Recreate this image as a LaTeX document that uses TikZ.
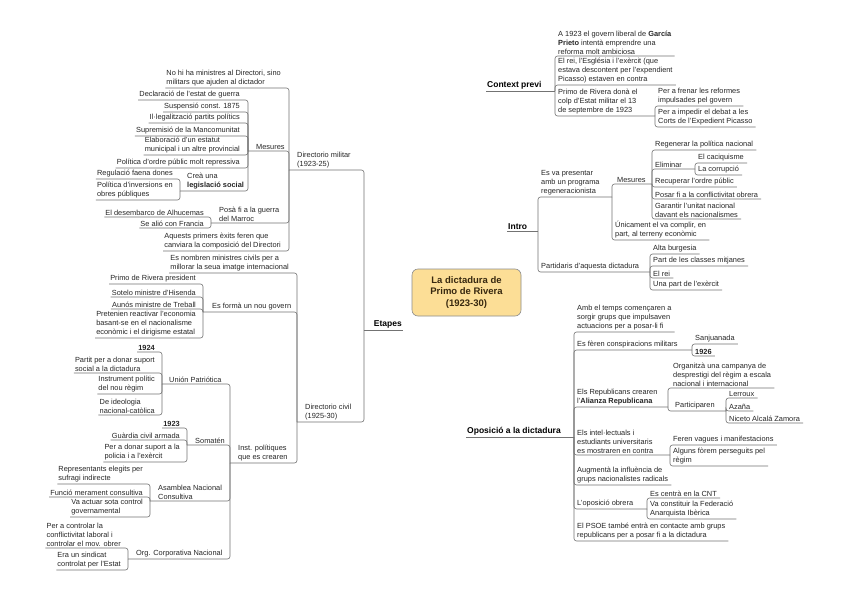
\documentclass[tikz,border=0pt]{standalone}
\usepackage{fontspec}
\setmainfont{Liberation Sans}
\usetikzlibrary{calc}
\pgfdeclarelayer{bg}
\pgfsetlayers{bg,main}
\definecolor{hubfill}{RGB}{252,222,150}
\definecolor{hubtext}{RGB}{55,40,15}
\newcommand\myL[2]{\draw[cn] (#1.south west) -- (#1.south west -| #2) -- (#2);}
\newcommand\myR[2]{\draw[cn] ($(#1.south east)+(2,0)$) -- (#1.south east -| #2) -- (#2);}
\newcommand\myJ[2]{\draw[cn] (#1) -- (#1 -| #2) -- (#2);}
\begin{document}
\begin{tikzpicture}[x=1pt,y=-1pt,
  lf/.style={inner xsep=1pt, inner ysep=1.3pt, font=\fontsize{7.4}{9}\selectfont, align=left, text=black!85},
  L/.style={lf, anchor=south east},
  R/.style={lf, anchor=south west},
  br/.style={inner xsep=1pt, inner ysep=1.3pt, font=\fontsize{8.5}{10}\selectfont\bfseries, text=black},
  cn/.style={draw=black!55, line width=0.6pt, rounded corners=2.5pt},
  hub/.style={draw=black!45, line width=0.6pt, fill=hubfill, rounded corners=6pt, minimum width=109pt, minimum height=47pt, align=center, font=\fontsize{9.5}{11.5}\selectfont\bfseries, text=hubtext},
  taper/.style={fill=black}
]
\fill[white] (0,0) rectangle (848,599);
\useasboundingbox (0,0) rectangle (848,599);

% ---------- hub ----------
\node[hub] (c) at (466.5,292.5) {La dictadura de\\Primo de Rivera\\(1923-30)};

% ---------- main branches ----------
\node[br, anchor=south west] (ctx) at (486,91) {Context previ};
\node[br, anchor=south west] (int) at (507,231) {Intro};
\node[br, anchor=south east] (eta) at (403,330) {Etapes};
\node[br, anchor=south west] (opo) at (466,437) {Oposició a la dictadura};
\coordinate (ctxj) at (555,91);
\coordinate (intj) at (538,231);
\coordinate (etaj) at (364,330);
\coordinate (opoj) at (574,437);
\draw[cn] (ctx.south west) -- (ctxj);
\draw[cn] (int.south west) -- (intj);
\draw[cn] (etaj) -- (eta.south east);
\draw[cn] (opo.south west) -- (opoj);

\begin{pgfonlayer}{bg}
\fill[taper] ($(ctx.south west)+(-0.7,0)$) -- ($(ctx.south west)+(0.7,0)$) -- (472.5,275) -- (466.5,275) -- cycle;
\fill[taper] ($(int.south west)+(-0.7,0)$) -- ($(int.south west)+(0.7,0)$) -- (482,274) -- (476,274) -- cycle;
\fill[taper] ($(eta.south east)+(0,-0.7)$) -- ($(eta.south east)+(0,0.7)$) -- (434,315) -- (431,310) -- cycle;
\fill[taper] ($(opo.south west)+(-0.7,0)$) -- ($(opo.south west)+(0.7,0)$) -- (474,308) -- (468,308) -- cycle;
\end{pgfonlayer}

% ---------- Context previ ----------
\node[R] (cp1) at (557,56) {A 1923 el govern liberal de \textbf{García}\\\textbf{Prieto} intentà emprendre una\\reforma molt ambiciosa};
\node[R] (cp2) at (557,85) {El rei, l'Església i l'exèrcit (que\\estava descontent per l'expendient\\Picasso) estaven en contra};
\node[R] (cp3) at (557,116) {Primo de Rivera donà el\\colp d'Estat militar el 13\\de septembre de 1923};
\coordinate (cp3j) at (655,116);
\node[R] (cp3a) at (657,106) {Per a frenar les reformes\\impulsades pel govern};
\node[R] (cp3b) at (657,127) {Per a impedir el debat a les\\Corts de l'Expedient Picasso};
\myR{cp1}{ctxj} \myR{cp2}{ctxj} \myJ{cp3j}{ctxj}
\myR{cp3a}{cp3j} \myR{cp3b}{cp3j}

% ---------- Intro ----------
\node[R] (in1) at (540,197) {Es va presentar\\amb un programa\\regeneracionista};
\coordinate (in1j) at (612,197);
\node[R] (in1m) at (616,184) {Mesures};
\coordinate (in1mj) at (652,184);
\node[R] (m1) at (654,150) {Regenerar la política nacional};
\node[R] (m2) at (654,169) {Eliminar};
\coordinate (m2j) at (695,169);
\node[R] (m2a) at (697,163) {El caciquisme};
\node[R] (m2b) at (697,175) {La corrupció};
\node[R] (m3) at (654,187) {Recuperar l'ordre públic};
\node[R] (m4) at (654,199) {Posar fi a la conflictivitat obrera};
\node[R] (m5) at (654,219) {Garantir l'unitat nacional\\davant els nacionalismes};
\node[R] (in1u) at (614,240) {Únicament el va complir, en\\part, al terreny econòmic};
\node[R] (in2) at (540,272) {Partidaris d'aquesta dictadura};
\coordinate (in2j) at (650,272);
\node[R] (p1) at (652,254) {Alta burgesia};
\node[R] (p2) at (652,266) {Part de les classes mitjanes};
\node[R] (p3) at (652,278) {El rei};
\node[R] (p4) at (652,290) {Una part de l'exèrcit};
\myJ{in1j}{intj} \myJ{in2j}{intj}
\myJ{in1mj}{in1j} \myR{in1u}{in1j}
\myR{m1}{in1mj} \myJ{m2j}{in1mj} \myR{m3}{in1mj} \myR{m4}{in1mj} \myR{m5}{in1mj}
\myR{m2a}{m2j} \myR{m2b}{m2j}
\myR{p1}{in2j} \myR{p2}{in2j} \myR{p3}{in2j} \myR{p4}{in2j}

% ---------- Oposició ----------
\node[R] (o1) at (576,332) {Amb el temps començaren a\\sorgir grups que impulsaven\\actuacions per a posar-li fi};
\node[R] (o2) at (576,350) {Es fèren conspiracions militars};
\coordinate (o2j) at (692,350);
\node[R] (o2a) at (694,344) {Sanjuanada};
\node[R] (o2b) at (694,356) {\textbf{1926}};
\node[R] (o3) at (576,407) {Els Republicans crearen\\l'\textbf{Alianza Republicana}};
\coordinate (o3j) at (668,407);
\node[R] (o3a) at (672,388) {Organitzà una campanya de\\desprestigi del règim a escala\\nacional i internacional};
\node[R] (o3b) at (674,411) {Participaren};
\coordinate (o3bj) at (726,411);
\node[R] (l1) at (728,398) {Lerroux};
\node[R] (l2) at (728,411) {Azaña};
\node[R] (l3) at (728,423) {Niceto Alcalá Zamora};
\node[R] (o4) at (576,455) {Els intel·lectuals i\\estudiants universitaris\\es mostraren en contra};
\coordinate (o4j) at (670,455);
\node[R] (o4a) at (672,445) {Feren vagues i manifestacions};
\node[R] (o4b) at (672,466) {Alguns fòrem perseguits pel\\règim};
\node[R] (o5) at (576,485) {Augmentà la influència de\\grups nacionalistes radicals};
\node[R] (o6) at (576,509) {L'oposició obrera};
\coordinate (o6j) at (647,509);
\node[R] (o6a) at (649,498) {Es centrà en la CNT};
\node[R] (o6b) at (649,519) {Va constituir la Federació\\Anarquista Ibèrica};
\node[R] (o7) at (576,541) {El PSOE també entrà en contacte amb grups\\republicans per a posar fi a la dictadura};
\myR{o1}{opoj} \myJ{o2j}{opoj} \myJ{o3j}{opoj} \myJ{o4j}{opoj} \myR{o5}{opoj} \myJ{o6j}{opoj} \myR{o7}{opoj}
\myR{o2a}{o2j} \myR{o2b}{o2j}
\myR{o3a}{o3j} \myJ{o3bj}{o3j}
\myR{l1}{o3bj} \myR{l2}{o3bj} \myR{l3}{o3bj}
\myR{o4a}{o4j} \myR{o4b}{o4j}
\myR{o6a}{o6j} \myR{o6b}{o6j}

% ---------- Etapes: Directorio militar ----------
\node[R] (dm) at (296,170) {Directorio militar\\(1923-25)};
\coordinate (dmj) at (289,170);
\node[L] (dm1) at (282,88) {No hi ha ministres al Directori, sino\\militars que ajuden al dictador};
\node[R] (mes) at (255,151) {Mesures};
\coordinate (mesj) at (248,151);
\node[L] (me1) at (241,100) {Declaració de l'estat de guerra};
\node[L] (me2) at (241,112) {Suspensió const. 1875};
\node[L] (me3) at (241,123) {Il·legalització partits polítics};
\node[L] (me4) at (241,136) {Supremisió de la Mancomunitat};
\node[L] (me5) at (241,155) {Elaboració d'un estatut\\municipal i un altre provincial};
\node[L] (me6) at (241,168) {Política d'ordre públic molt repressiva};
\node[R] (me7) at (186,191) {Creà una\\\textbf{legislació social}};
\coordinate (me7j) at (180,191);
\node[L] (ls1) at (174,179) {Regulació faena dones};
\node[L] (ls2) at (174,200) {Política d'inversions en\\obres públiques};
\node[R] (pf) at (218,223) {Posà fi a la guerra\\del Marroc};
\coordinate (pfj) at (211,223);
\node[L] (pf1) at (205,217) {El desembarco de Alhucemas};
\node[L] (pf2) at (205,228) {Se alió con Francia};
\node[L] (dm4) at (282,251) {Aquests primers èxits feren que\\canviara la composició del Directori};
\myJ{dmj}{etaj}
\myL{dm1}{dmj} \myJ{mesj}{dmj} \myJ{pfj}{dmj} \myL{dm4}{dmj}
\myL{me1}{mesj} \myL{me2}{mesj} \myL{me3}{mesj} \myL{me4}{mesj} \myL{me5}{mesj} \myL{me6}{mesj} \myJ{me7j}{mesj}
\myL{ls1}{me7j} \myL{ls2}{me7j}
\myL{pf1}{pfj} \myL{pf2}{pfj}

% ---------- Etapes: Directorio civil ----------
\node[R] (dc) at (304,422) {Directorio civil\\(1925-30)};
\coordinate (dcj) at (297,422);
\node[L] (dc1) at (290,273) {Es nombren ministres civils per a\\millorar la seua imatge internacional};
\node[R] (ng) at (211,312) {Es formà un nou govern};
\coordinate (ngj) at (203,312);
\node[L] (ng1) at (197,284) {Primo de Rivera president};
\node[L] (ng2) at (197,297) {Sotelo ministre d'Hisenda};
\node[L] (ng3) at (197,309) {Aunós ministre de Treball};
\node[L] (ng4) at (197,338) {Pretenien reactivar l'economia\\basant-se en el nacionalisme\\econòmic i el dirigisme estatal};
\node[R] (ip) at (237,463) {Inst. polítiques\\que es crearen};
\coordinate (ipj) at (230,463);
\node[R] (up) at (168,384) {Unión Patriótica};
\coordinate (upj) at (162,384);
\node[L] (up1) at (156,352) {\textbf{1924}};
\node[L] (up2) at (156,373) {Partit per a donar suport\\social a la dictadura};
\node[L] (up3) at (156,394) {Instrument polític\\del nou règim};
\node[L] (up4) at (156,415) {De ideologia\\nacional-catòlica};
\node[R] (so) at (194,445) {Somatén};
\coordinate (soj) at (187,445);
\node[L] (so1) at (181,428) {\textbf{1923}};
\node[L] (so2) at (181,440) {Guàrdia civil armada};
\node[L] (so3) at (181,462) {Per a donar suport a la\\policia i a l'exèrcit};
\node[R] (an) at (157,501) {Asamblea Nacional\\Consultiva};
\coordinate (anj) at (150,501);
\node[L] (an1) at (144,484) {Representants elegits per\\sufragi indirecte};
\node[L] (an2) at (144,497) {Funció merament consultiva};
\node[L] (an3) at (144,517) {Va actuar sota control\\governamental};
\node[R] (oc) at (135,559) {Org. Corporativa Nacional};
\coordinate (ocj) at (128,559);
\node[L] (oc1) at (122,548) {Per a controlar la\\conflictivitat laboral i\\controlar el mov. obrer};
\node[L] (oc2) at (122,570) {Era un sindicat\\controlat per l'Estat};
\myJ{dcj}{etaj}
\myL{dc1}{dcj} \myJ{ngj}{dcj} \myJ{ipj}{dcj}
\myL{ng1}{ngj} \myL{ng2}{ngj} \myL{ng3}{ngj} \myL{ng4}{ngj}
\myJ{upj}{ipj} \myJ{soj}{ipj} \myJ{anj}{ipj} \myJ{ocj}{ipj}
\myL{up1}{upj} \myL{up2}{upj} \myL{up3}{upj} \myL{up4}{upj}
\myL{so1}{soj} \myL{so2}{soj} \myL{so3}{soj}
\myL{an1}{anj} \myL{an2}{anj} \myL{an3}{anj}
\myL{oc1}{ocj} \myL{oc2}{ocj}
\end{tikzpicture}
\end{document}
